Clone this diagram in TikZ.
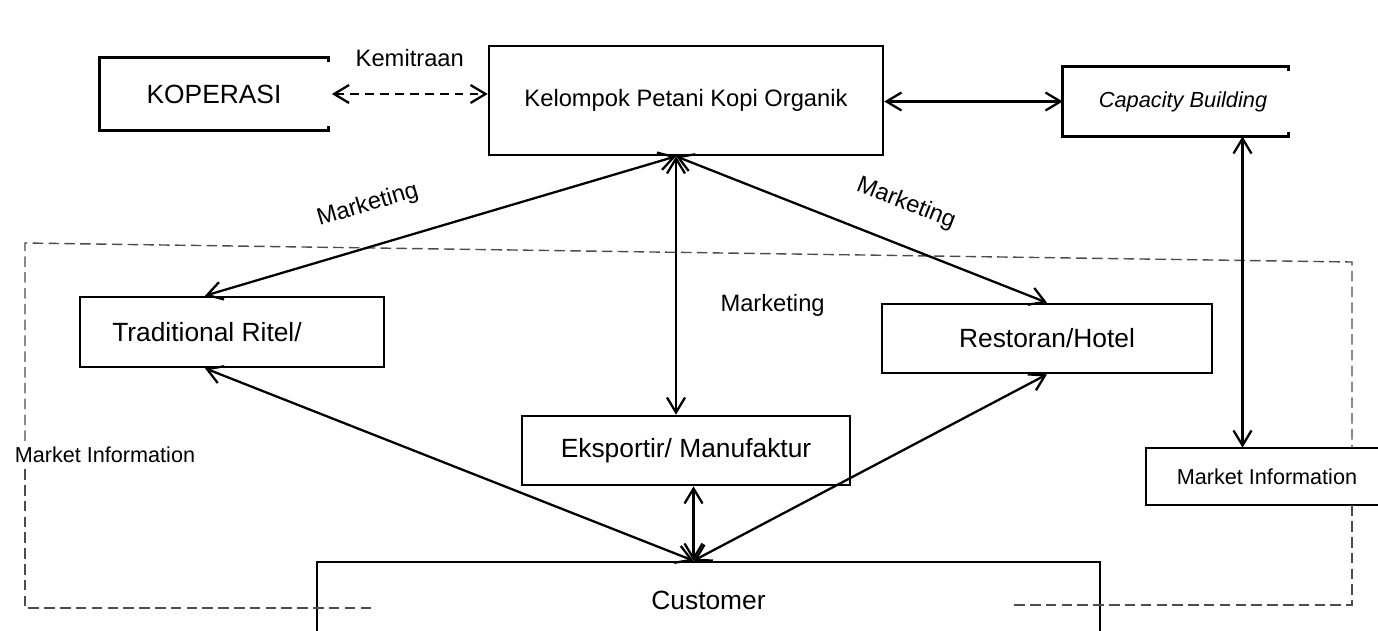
\documentclass[tikz,border=0pt]{standalone}
\usepackage{fontspec}
\setmainfont{Liberation Sans}
\usetikzlibrary{arrows.meta}

\begin{document}
\begin{tikzpicture}[
    x=0.02cm, y=-0.02cm,
    box/.style={rectangle, draw, line width=1.5pt, align=center, font=\fontsize{15}{18}\selectfont},
    openbox/.style={rectangle, align=center},
    bracket/.style={line width=1.5pt},
    arrow/.style={{Straight Barb[length=3mm,width=3.6mm]}-{Straight Barb[length=3mm,width=3.6mm]}, line width=1.3pt},
    dasharrow/.style={arrow, dash pattern=on 5pt off 3.5pt},
    lbl/.style={font=\fontsize{13.5}{16}\selectfont},
    mframe/.style={line width=0.8pt, draw=black!70, dash pattern=on 6pt off 3pt}
]
\useasboundingbox (0,0) rectangle (1378,630);

% --- Baris atas ---
\node[openbox, minimum width=4.56cm, minimum height=1.44cm, font=\fontsize{15}{18}\selectfont] (koperasi) at (214,94) {KOPERASI};
\node[box, minimum width=7.88cm, minimum height=2.18cm, font=\fontsize{13.5}{16}\selectfont] (kelompok) at (686,100.5) {Kelompok Petani Kopi Organik};
\node[openbox, minimum width=4.5cm, minimum height=1.38cm, font=\itshape\fontsize{12.4}{15}\selectfont] (capacity) at (1175.5,101.5) {\hspace*{0.3cm}Capacity Building};

% --- Baris tengah ---
\node[box, minimum width=6.08cm, minimum height=1.4cm] (ritel) at (232,332) {Traditional Ritel/\hspace*{1cm}};
\node[box, minimum width=6.6cm, minimum height=1.38cm] (restoran) at (1047,338.5) {Restoran/Hotel};
\node[box, minimum width=6.56cm, minimum height=1.38cm] (ekspor) at (686,450.5) {Eksportir/ Manufaktur};

% --- Bawah ---
\node[box, minimum width=15.66cm, minimum height=1.52cm] (customer) at (708.5,600) {Customer};
\node[openbox, minimum width=4.84cm, minimum height=1.14cm, font=\fontsize{12.3}{15}\selectfont] (minfo) at (1267,476.5) {Market Information};
\node[openbox, font=\fontsize{12.3}{15}\selectfont] (mleft) at (105,455) {Market Information};

% kotak terbuka di sisi kanan
\draw[bracket] ([yshift=-0.08cm]koperasi.north east) -- (koperasi.north east) -- (koperasi.north west)
    -- (koperasi.south west) -- (koperasi.south east) -- ([yshift=0.08cm]koperasi.south east);
\draw[bracket] ([yshift=-0.08cm]capacity.north east) -- (capacity.north east) -- (capacity.north west)
    -- (capacity.south west) -- (capacity.south east) -- ([yshift=0.08cm]capacity.south east);
\draw[line width=1pt] (minfo.north east) -- (minfo.north west) -- (minfo.south west) -- (minfo.south east);

% === Garis putus-putus (market information) ===
\coordinate (tl) at (25,243);
\coordinate (tr) at (1352,262);
\coordinate (bl) at (25,608);
\coordinate (br) at (1352,605);
\coordinate (blend) at (372,608);
\coordinate (brend) at (1010,605);
\draw[mframe] (mleft.north -| tl) -- (tl) -- (tr) -- (minfo.north -| tr);
\draw[mframe] (mleft.south -| bl) -- (bl) -- (blend);
\draw[mframe] (minfo.south -| br) -- (br) -- (brend);

% === Panah ===
\coordinate (kp) at ([xshift=-0.2cm]kelompok.south);
\coordinate (cu) at ([xshift=-0.3cm]customer.north);
\coordinate (cb) at ([xshift=1.34cm]capacity.south);

\draw[dasharrow] ([xshift=2pt]koperasi.east) -- node[lbl, above=0.4cm] (kemitraan) {Kemitraan} (koperasi.east -| kelompok.west);
\draw[arrow] (kelompok.east |- capacity.west) -- (capacity.west);
\draw[arrow] (cb) -- (cb |- minfo.north);

% pemasaran dari kelompok tani
\draw[arrow] ([xshift=-0.54cm]ritel.north) -- node[lbl, sloped, above=0.45cm, pos=0.37] (mkt1) {Marketing} (kp);
\draw[arrow] (kp) -- node[lbl, sloped, above=0.45cm, pos=0.58] (mkt2) {Marketing} (restoran.north);
\draw[arrow] (kp) -- node[lbl, right=0.75cm, pos=0.575] (mkt3) {Marketing} (kp |- ekspor.north);

% ke customer
\draw[arrow] ([xshift=-0.54cm]ritel.south) -- (cu);
\draw[arrow] (restoran.south) -- (cu);
\draw[arrow] (cu |- ekspor.south) -- (cu);

\end{tikzpicture}
\end{document}
